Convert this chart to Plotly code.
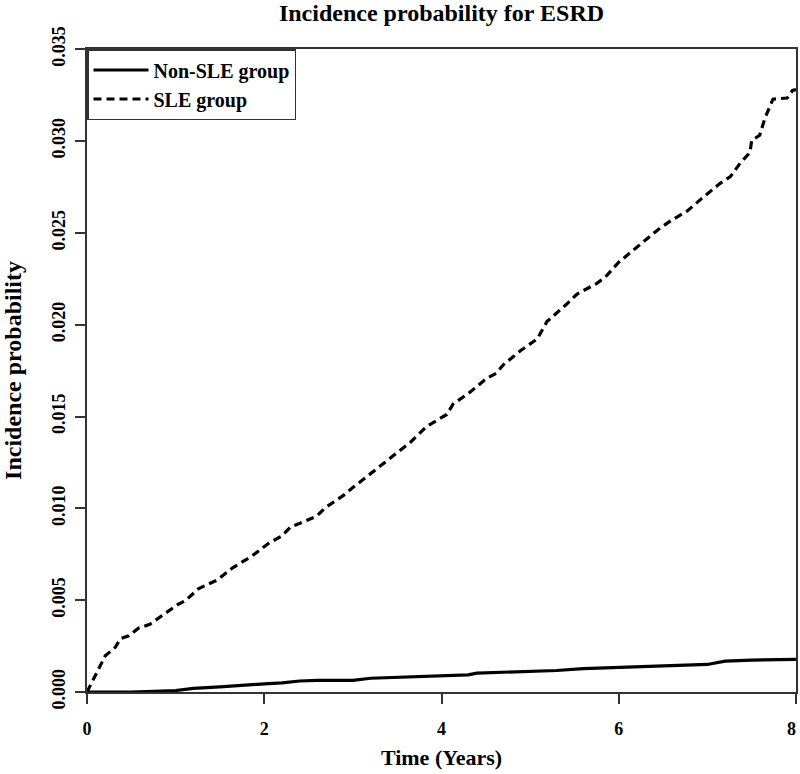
import plotly.graph_objects as go

# Time (years) and cumulative incidence probability
sle_time = [0, 0.1, 0.206, 0.32, 0.376, 0.47, 0.58, 0.71, 0.86, 1.03, 1.11, 1.26, 1.47, 1.64,
            1.86, 2.05, 2.2, 2.3, 2.41, 2.59, 2.69, 2.89, 3.01, 3.16, 3.38, 3.50, 3.65, 3.83,
            4.06, 4.13, 4.32, 4.51, 4.62, 4.70, 4.89, 5.08, 5.19, 5.41, 5.53, 5.75, 5.85, 6.0,
            6.15, 6.3, 6.45, 6.6, 6.77, 6.95, 7.14, 7.26, 7.37, 7.48, 7.50, 7.59, 7.65, 7.74,
            7.90, 7.96, 8.0]
sle_prob = [0, 0.0010, 0.00197, 0.00244, 0.0029, 0.00306, 0.00347, 0.00369, 0.00422, 0.00478,
            0.00497, 0.00563, 0.0061, 0.00675, 0.0074, 0.0081, 0.0085, 0.0090, 0.0092, 0.00957,
            0.01004, 0.01069, 0.01117, 0.01173, 0.01257, 0.01304, 0.0136, 0.01445, 0.01511,
            0.01567, 0.01632, 0.01708, 0.01736, 0.01783, 0.01858, 0.01923, 0.02017, 0.02111,
            0.02167, 0.02224, 0.0226, 0.0234, 0.0240, 0.0246, 0.0252, 0.0257, 0.02618, 0.02693,
            0.02768, 0.02806, 0.0288, 0.02937, 0.03003, 0.03031, 0.03125, 0.03228, 0.03234,
            0.03275, 0.0328]

non_time = [0, 0.5, 1.0, 1.2, 1.5, 1.8, 2.0, 2.2, 2.4, 2.6, 3.0, 3.2, 3.5, 4.0, 4.3, 4.4,
            5.0, 5.3, 5.6, 6.0, 6.5, 7.0, 7.2, 7.5, 8.0]
non_prob = [0, 0, 0.00008, 0.0002, 0.00028, 0.0004, 0.00044, 0.0005, 0.0006, 0.00063, 0.00063,
            0.00075, 0.00079, 0.00087, 0.00093, 0.00103, 0.00113, 0.00117, 0.00127, 0.00133,
            0.00142, 0.0015, 0.00168, 0.00174, 0.00178]

x_ticks = [0, 2, 4, 6, 8]
x_labels = ["0", "2", "4", "6", "8"]
y_ticks = [0.000, 0.005, 0.010, 0.015, 0.020, 0.025, 0.030, 0.035]
y_labels = ["0.000", "0.005", "0.010", "0.015", "0.020", "0.025", "0.030", "0.035"]

FONT = "Liberation Serif"

fig = go.Figure()
fig.add_trace(go.Scatter(x=non_time, y=non_prob, mode="lines", name="<b>Non-SLE group</b>",
                         line=dict(color="black", width=3.2)))
fig.add_trace(go.Scatter(x=sle_time, y=sle_prob, mode="lines", name="<b>SLE group</b>",
                         line=dict(color="black", width=3.2, dash="8px,5px")))

axis_common = dict(showline=True, mirror=True, linecolor="#333333", linewidth=1.5,
                   showgrid=False, zeroline=False, ticks="outside", ticklen=10,
                   tickcolor="#333333", tickwidth=1.5, automargin=False,
                   ticklabeloverflow="allow",
                   tickfont=dict(family=FONT, size=18, color="black"))

xt = ["<b>%s</b>" % s for s in x_labels]
xt[-1] = "<b>%s</b>&nbsp;&nbsp;" % x_labels[-1]

fig.update_layout(
    width=800, height=774,
    margin=dict(l=87, r=4, t=49, b=82),
    paper_bgcolor="white", plot_bgcolor="white",
    title=dict(text="<b>Incidence probability for ESRD</b>", x=0.5, xref="paper",
               y=0.995, yanchor="top",
               font=dict(family=FONT, size=24, color="black")),
    xaxis=dict(range=[0, 8], tickvals=x_ticks, ticktext=xt,
               title=dict(text="<b>Time (Years)</b>", standoff=11,
                          font=dict(family=FONT, size=22, color="black")),
               ticklabelstandoff=10, **axis_common),
    yaxis=dict(range=[0, 0.035 + 0.035 * 0.0003], tickvals=y_ticks,
               ticktext=["<b>%s</b>" % s for s in y_labels], tickangle=-90,
               title=dict(text="<b>Incidence probability</b>", standoff=27,
                          font=dict(family=FONT, size=24, color="black")),
               ticklabelstandoff=3, **axis_common),
    legend=dict(x=0, y=1, xanchor="left", yanchor="top", bgcolor="white",
                bordercolor="#333333", borderwidth=1.5,
                font=dict(family=FONT, size=20, color="black"),
                tracegroupgap=0, itemwidth=55),
    showlegend=True,
)

fig.write_html("out.html", config={"displayModeBar": False},
               post_script="document.body.style.margin='0';document.body.style.overflow='hidden';")
